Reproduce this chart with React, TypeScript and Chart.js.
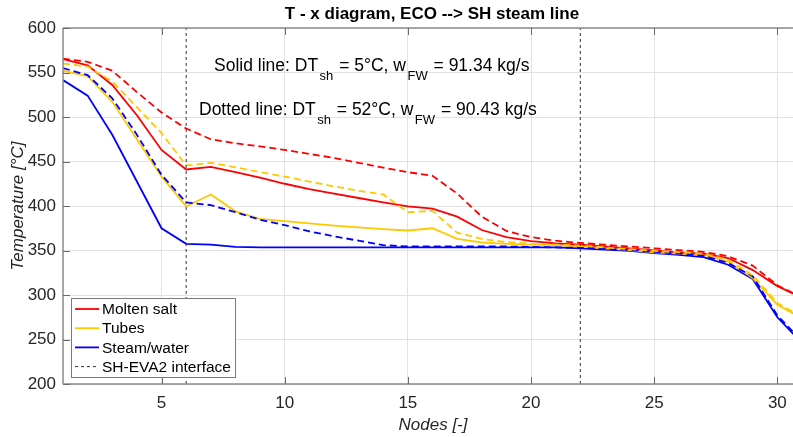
import React, { useEffect, useRef } from "react";
import { Chart, registerables } from "chart.js";

Chart.register(...registerables);

// ---------- data ----------
const nodes = [1, 2, 3, 4, 5, 6, 7, 8, 9, 10, 11, 12, 13, 14, 15, 16, 17, 18, 19, 20, 21, 22, 23, 24, 25, 26, 27, 28, 29, 30, 31];

const moltenSaltSolid = [565, 558, 536, 502, 463, 441, 444, 438, 432, 425, 419, 414, 409, 404, 399.5, 397, 388, 373, 365, 360.5, 358, 356.5, 354.5, 352.5, 350, 348, 346.5, 341.5, 328, 310, 297];
const tubesSolid = [552, 546, 517, 475, 433, 399.5, 413, 394, 385.5, 383, 380.5, 378, 376, 374, 372.5, 375, 363, 359, 357.5, 356.5, 356, 354.5, 352.5, 350.5, 348, 346.5, 345, 337.5, 319, 289, 274];
const steamSolid = [541.5, 524, 480, 427.5, 375, 357.5, 356.5, 354, 353.5, 353.5, 353.5, 353.5, 353.5, 353.5, 353.5, 353.5, 353.5, 353.5, 353.5, 353.5, 353.5, 352.5, 351, 349.5, 347, 345, 342.5, 334, 318, 275, 246];

const moltenSaltDashed = [565.5, 562, 552, 528, 505, 487, 475, 470.5, 467, 463, 458.5, 454, 448.5, 443, 438, 434, 414, 388, 372, 365, 361, 358.5, 356.5, 354.5, 352.5, 350.5, 348.5, 343.5, 333, 311, 297];
const tubesDashed = [560, 556.5, 540, 511, 482, 445.5, 448.5, 443.5, 438, 433, 427.5, 422, 417, 413, 393, 394.5, 370, 363, 359.5, 357.5, 356.5, 355.5, 353.5, 351.5, 349.5, 348, 346.5, 339.5, 322, 291, 275];
const steamDashed = [555, 547, 521, 480, 435, 404, 401, 393, 384.5, 378.5, 371.5, 366, 361, 356, 354.5, 354.5, 354.5, 354.5, 354.5, 354, 353.5, 353, 352, 350.5, 348.5, 346.5, 344, 336, 321, 277, 248];

const interfaceNodes = [6, 22];

const xTicks = [5, 10, 15, 20, 25, 30];
const yTicks = [200, 250, 300, 350, 400, 450, 500, 550, 600];
const xMin = 1;
const xMax = 31;

const titleText = "T - x diagram, ECO --> SH steam line";
const xLabel = "Nodes [-]";
const yLabel = "Temperature [°C]";
const legendLabels = ["Molten salt", "Tubes", "Steam/water", "SH-EVA2 interface"];

const note1: [string, boolean][] = [["Solid line: DT", false], ["sh", true], [" = 5°C, w", false], ["FW", true], [" = 91.34 kg/s", false]];
const note2: [string, boolean][] = [["Dotted line: DT", false], ["sh", true], [" = 52°C, w", false], ["FW", true], [" = 90.43 kg/s", false]];

// ---------- styles ----------
const RED = "#ff0000";
const YELLOW = "#ffc800";
const BLUE = "#0000ff";
const FONT = "'Liberation Sans', Arial, Helvetica, sans-serif";

const toXY = (vals: number[]) => vals.map((v, i) => ({ x: nodes[i], y: v }));

const overlayPlugin = {
  id: "overlay",
  afterDatasetsDraw(chart: any) {
    const { ctx, chartArea: a, scales } = chart;
    const xs = scales.x;
    const ys = scales.y;
    ctx.save();

    // axes box lines (left, top, bottom)
    ctx.strokeStyle = "#8a8a8a";
    ctx.lineWidth = 1.5;
    ctx.beginPath();
    ctx.moveTo(a.left, a.top);
    ctx.lineTo(a.right, a.top);
    ctx.moveTo(a.left, a.top);
    ctx.lineTo(a.left, a.bottom);
    ctx.moveTo(a.left, a.bottom);
    ctx.lineTo(a.right, a.bottom);
    ctx.stroke();

    // inward ticks
    ctx.lineWidth = 1;
    ctx.strokeStyle = "#6a6a6a";
    ctx.beginPath();
    for (const v of xTicks) {
      const px = Math.round(xs.getPixelForValue(v)) + 0.5;
      ctx.moveTo(px, a.bottom);
      ctx.lineTo(px, a.bottom - 7);
      ctx.moveTo(px, a.top);
      ctx.lineTo(px, a.top + 7);
    }
    for (const v of yTicks) {
      const py = Math.round(ys.getPixelForValue(v)) + 0.5;
      ctx.moveTo(a.left, py);
      ctx.lineTo(a.left + 7, py);
    }
    ctx.stroke();

    // title
    ctx.fillStyle = "#000000";
    ctx.font = `bold 17px ${FONT}`;
    ctx.textAlign = "center";
    ctx.textBaseline = "middle";
    ctx.fillText(titleText, 432, 14);

    // axis titles
    ctx.fillStyle = "#262626";
    ctx.font = `italic 17px ${FONT}`;
    ctx.fillText(xLabel, 433, 425);
    ctx.save();
    ctx.translate(18, 206);
    ctx.rotate(-Math.PI / 2);
    ctx.fillText(yLabel, 0, 0);
    ctx.restore();

    // annotations with subscripts
    const drawNote = (parts: [string, boolean][], x0: number, baseY: number) => {
      let x = x0;
      ctx.textAlign = "left";
      ctx.textBaseline = "alphabetic";
      ctx.fillStyle = "#000000";
      for (const [t, sub] of parts) {
        ctx.font = sub ? `13px ${FONT}` : `17.5px ${FONT}`;
        const xx = sub ? x + 1.5 : x;
        ctx.fillText(t, xx, sub ? baseY + 9 : baseY);
        x = xx + ctx.measureText(t).width + (sub ? 1 : 0);
      }
    };
    drawNote(note1, 214, 71);
    drawNote(note2, 199, 115);

    // legend
    const lx = 71, ly = 298, lw = 164, lh = 79;
    ctx.fillStyle = "#ffffff";
    ctx.fillRect(lx, ly, lw, lh);
    ctx.strokeStyle = "#7a7a7a";
    ctx.lineWidth = 1;
    ctx.strokeRect(lx + 0.5, ly + 0.5, lw, lh);
    const ds = chart.data.datasets;
    legendLabels.forEach((lab, i) => {
      const d = ds.find((q: any) => q.label === lab);
      const ry = 309 + i * 19.2;
      ctx.save();
      ctx.strokeStyle = d.borderColor;
      ctx.lineWidth = d.borderWidth;
      ctx.setLineDash(d.borderDash || []);
      ctx.beginPath();
      ctx.moveTo(75, ry);
      ctx.lineTo(99, ry);
      ctx.stroke();
      ctx.restore();
      ctx.fillStyle = "#000000";
      ctx.font = `15.5px ${FONT}`;
      ctx.textAlign = "left";
      ctx.textBaseline = "middle";
      ctx.fillText(lab, 102, ry + 1);
    });

    ctx.restore();
  },
};

export default function App() {
  const canvasRef = useRef<HTMLCanvasElement | null>(null);

  useEffect(() => {
    const canvas = canvasRef.current;
    if (!canvas) return;

    const interfaceData: any[] = [];
    interfaceNodes.forEach((n) => {
      interfaceData.push({ x: n, y: yTicks[0] });
      interfaceData.push({ x: n, y: yTicks[yTicks.length - 1] });
      interfaceData.push({ x: n, y: null });
    });

    const solid = (label: string, vals: number[], color: string) => ({
      label,
      data: toXY(vals),
      borderColor: color,
      backgroundColor: color,
      borderWidth: 1.8,
      pointRadius: 0,
      fill: false,
      tension: 0,
      order: 2,
    });
    const dashed = (label: string, vals: number[], color: string) => ({
      label,
      data: toXY(vals),
      borderColor: color,
      backgroundColor: color,
      borderWidth: 1.8,
      borderDash: [7, 4],
      pointRadius: 0,
      fill: false,
      tension: 0,
      order: 1,
    });

    const chart = new Chart(canvas, {
      type: "line",
      data: {
        datasets: [
          {
            label: "SH-EVA2 interface",
            data: interfaceData,
            borderColor: "#333333",
            backgroundColor: "#333333",
            borderWidth: 1,
            borderDash: [3, 3],
            pointRadius: 0,
            spanGaps: false,
            order: 0,
          },
          dashed("Molten salt (dotted)", moltenSaltDashed, RED),
          dashed("Tubes (dotted)", tubesDashed, YELLOW),
          dashed("Steam/water (dotted)", steamDashed, BLUE),
          solid("Molten salt", moltenSaltSolid, RED),
          solid("Tubes", tubesSolid, YELLOW),
          solid("Steam/water", steamSolid, BLUE),
        ] as any,
      },
      options: {
        responsive: false,
        animation: false,
        devicePixelRatio: 1,
        layout: { padding: { top: 28, left: 0, right: 18, bottom: 0 } },
        plugins: {
          legend: { display: false },
          title: { display: false },
          tooltip: { enabled: false },
        },
        scales: {
          x: {
            type: "linear",
            min: xMin,
            max: xMax,
            afterFit: (s: any) => {
              s.height = 53;
            },
            afterBuildTicks: (s: any) => {
              s.ticks = xTicks.map((v) => ({ value: v }));
            },
            ticks: {
              autoSkip: false,
              maxRotation: 0,
              padding: 9,
              color: "#262626",
              font: { family: FONT, size: 17 },
            },
            grid: { color: "#e2e2e2", lineWidth: 1, drawTicks: false },
            border: { display: false },
          },
          y: {
            type: "linear",
            min: yTicks[0],
            max: yTicks[yTicks.length - 1],
            afterFit: (s: any) => {
              s.width = 63;
            },
            afterBuildTicks: (s: any) => {
              s.ticks = yTicks.map((v) => ({ value: v }));
            },
            ticks: {
              autoSkip: false,
              padding: 7,
              color: "#262626",
              font: { family: FONT, size: 17 },
            },
            grid: { color: "#e2e2e2", lineWidth: 1, drawTicks: false },
            border: { display: false },
          },
        },
      } as any,
      plugins: [overlayPlugin],
    });

    return () => {
      chart.destroy();
    };
  }, []);

  return (
    <div
      style={{
        position: "fixed",
        left: 0,
        top: 0,
        width: 793,
        height: 437,
        overflow: "hidden",
        background: "#ffffff",
      }}
    >
      <canvas ref={canvasRef} width={820} height={437} style={{ display: "block" }} />
    </div>
  );
}
